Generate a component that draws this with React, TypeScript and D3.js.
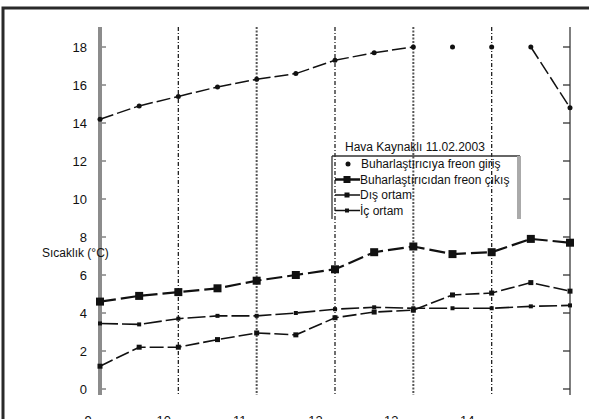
import * as d3 from 'd3';

// saat (9:00 - 15:00, yarım saatlik ölçümler)
const times = [9, 9.5, 10, 10.5, 11, 11.5, 12, 12.5, 13, 13.5, 14, 14.5, 15];
const hourLines = [9, 10, 11, 12, 13, 14, 15];
const xTickLabels = ['9', '10', '11', '12', '13', '14'];
const yTicks = [0, 2, 4, 6, 8, 10, 12, 14, 16, 18];

const giris = [14.2, 14.9, 15.4, 15.9, 16.3, 16.6, 17.3, 17.7, 18.0, 18.0, 18.0, 18.0, 14.8];
// bu saatlerden sonra çizgi kopuk, sadece nokta var
const girisBreaks = [13, 13.5, 14];
const cikis = [4.6, 4.9, 5.1, 5.3, 5.7, 6.0, 6.3, 7.2, 7.5, 7.1, 7.2, 7.9, 7.7];
const disOrtam = [1.2, 2.2, 2.2, 2.6, 2.95, 2.85, 3.75, 4.05, 4.15, 4.95, 5.05, 5.6, 5.15];
const icOrtam = [3.45, 3.4, 3.7, 3.85, 3.85, 4.0, 4.2, 4.3, 4.25, 4.25, 4.25, 4.35, 4.4];

const legendTitle = 'Hava Kaynaklı 11.02.2003';
const legendLabels = [
  'Buharlaştırıcıya freon giriş',
  'Buharlaştırıcıdan freon çıkış',
  'Dış ortam',
  'İç ortam',
];

const W = 589;
const H = 419;
const font = 'Arial, "Liberation Sans", sans-serif';

export default function App() {
  const x = d3.scaleLinear().domain([9, 15]).range([100, 570]);
  const xLabel = d3.scaleLinear().domain([9, 15]).range([88, 543]);
  const y = d3.scaleLinear().domain([0, 18]).range([389, 47]);
  const yTop = 27;
  const yBottom = 395;

  const toPts = (vals: number[]) => vals.map((v, i) => ({ t: times[i], v }));
  const line = d3
    .line<{ t: number; v: number }>()
    .x((d) => x(d.t))
    .y((d) => y(d.v));

  const girisPts = toPts(giris);
  const girisSegs: { t: number; v: number }[][] = [];
  girisPts.forEach((p, i) => {
    if (i === girisPts.length - 1 || girisBreaks.includes(p.t)) return;
    girisSegs.push([p, girisPts[i + 1]]);
  });

  const sq = (cx: number, cy: number, s: number, key: string) => (
    <rect key={key} x={cx - s / 2} y={cy - s / 2} width={s} height={s} fill="#111" />
  );

  return (
    <div style={{ position: 'fixed', left: 0, top: 0, width: W, height: H, background: '#fff' }}>
      <svg width={W} height={H} style={{ display: 'block' }} fontFamily={font}>
        <rect x={0} y={0} width={W} height={H} fill="#fff" />

        {/* saat çizgileri */}
        {hourLines.slice(1, -1).map((h, i) => (
          <line
            key={h}
            x1={x(h)}
            x2={x(h)}
            y1={yTop}
            y2={yBottom}
            stroke={i % 2 === 0 ? '#222' : '#555'}
            strokeWidth={i % 2 === 0 ? 1.3 : 2}
            strokeDasharray={i % 2 === 0 ? '4,2,1,2' : '2,1.5'}
          />
        ))}

        {/* sol eksen */}
        <line x1={x(9)} x2={x(9)} y1={yTop} y2={yBottom} stroke="#8c8c8c" strokeWidth={4} />
        {yTicks.map((t) => (
          <g key={t}>
            <line x1={x(9) + 2} x2={x(9) + 6} y1={y(t)} y2={y(t)} stroke="#444" strokeWidth={1} />
            <text x={87} y={y(t)} dy="0.35em" textAnchor="end" fontSize={13} fill="#111">
              {t}
            </text>
          </g>
        ))}
        {/* sağ eksen */}
        <line x1={x(15)} x2={x(15)} y1={yTop} y2={yBottom} stroke="#555" strokeWidth={1.5} />
        {yTicks.map((t) => (
          <line key={t} x1={x(15) - 7} x2={x(15)} y1={y(t)} y2={y(t)} stroke="#333" strokeWidth={1.3} />
        ))}

        <text x={42} y={257} fontSize={12} fill="#111">
          Sıcaklık (°C)
        </text>

        {xTickLabels.map((l, i) => (
          <text key={l} x={xLabel(9 + i)} y={425} textAnchor="middle" fontSize={13} fill="#111">
            {l}
          </text>
        ))}

        {/* seriler */}
        {girisSegs.map((s, i) => (
          <path key={i} d={line(s) ?? ''} fill="none" stroke="#111" strokeWidth={1.5} strokeDasharray="14,4" />
        ))}
        {girisPts.map((p, i) => (
          <circle key={i} cx={x(p.t)} cy={y(p.v)} r={2.5} fill="#111" />
        ))}

        <path d={line(toPts(cikis)) ?? ''} fill="none" stroke="#111" strokeWidth={2.2} strokeDasharray="16,5" />
        {toPts(cikis).map((p, i) => sq(x(p.t), y(p.v), 8, 'c' + i))}

        <path d={line(toPts(disOrtam)) ?? ''} fill="none" stroke="#111" strokeWidth={1.6} strokeDasharray="14,4" />
        {toPts(disOrtam).map((p, i) => sq(x(p.t), y(p.v), 5, 'd' + i))}

        <path d={line(toPts(icOrtam)) ?? ''} fill="none" stroke="#111" strokeWidth={1.6} strokeDasharray="18,4" />
        {toPts(icOrtam).map((p, i) => sq(x(p.t), y(p.v), 4, 'i' + i))}

        {/* lejant */}
        <text x={345} y={151} fontSize={12} fill="#111">
          {legendTitle}
        </text>
        <line x1={332} x2={520} y1={156} y2={156} stroke="#333" strokeWidth={1.3} />
        <line x1={332} x2={332} y1={156} y2={219} stroke="#333" strokeWidth={1.3} />
        <line x1={519} x2={519} y1={156} y2={219} stroke="#aaa" strokeWidth={4} />
        {legendLabels.map((l, i) => {
          const ly = 164 + i * 15.5;
          return (
            <g key={l}>
              {i === 0 ? (
                <circle cx={348} cy={ly} r={2.5} fill="#111" />
              ) : (
                <>
                  <line x1={335} x2={360} y1={ly} y2={ly} stroke="#111" strokeWidth={i === 1 ? 2.5 : 1.5} />
                  {sq(347, ly, i === 1 ? 7 : i === 2 ? 5 : 4, 'l' + i)}
                </>
              )}
              <text x={i === 0 ? 361 : 360} y={ly} dy="0.35em" fontSize={12} fill="#111">
                {l}
              </text>
            </g>
          );
        })}

        {/* çerçeve */}
        <path d={`M3,${H} V8 H${W}`} fill="none" stroke="#2a2a2a" strokeWidth={3} />
      </svg>
    </div>
  );
}
